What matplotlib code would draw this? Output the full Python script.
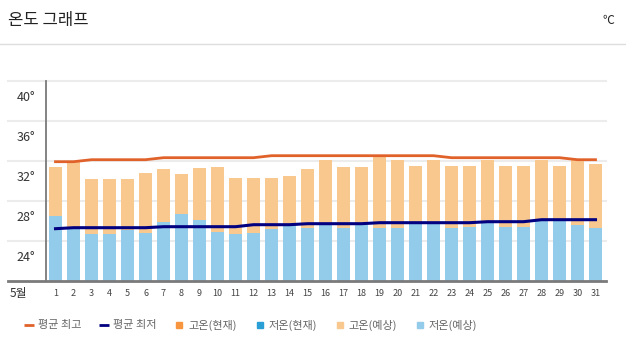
import matplotlib
matplotlib.use("Agg")
import matplotlib.pyplot as plt
import matplotlib.transforms as mtransforms
from matplotlib.lines import Line2D

plt.rcParams['font.family'] = ['Noto Sans CJK KR', 'DejaVu Sans']

HI_LINE = "#e0622a"
LO_LINE = "#000080"
HI_NOW = "#f7963f"
LO_NOW = "#2a9fd6"
HI_FC = "#f8c88e"
LO_FC = "#93cbea"

days = list(range(1, 32))
day_labels = [str(d) for d in days]
high_fc = [31.4, 31.9, 30.2, 30.2, 30.2, 30.8, 31.2, 30.7, 31.3, 31.4,
           30.3, 30.3, 30.3, 30.5, 31.2, 32.1, 31.4, 31.4, 32.5, 32.1,
           31.5, 32.1, 31.5, 31.5, 32.1, 31.5, 31.5, 32.1, 31.5, 32.1, 31.7]
low_fc = [26.5, 25.2, 24.7, 24.7, 25.1, 24.8, 25.9, 26.7, 26.1, 24.9,
          24.7, 24.8, 25.2, 25.6, 25.3, 25.6, 25.3, 25.6, 25.3, 25.3,
          25.7, 25.8, 25.3, 25.4, 25.9, 25.4, 25.4, 26.1, 26.2, 25.6, 25.3]
avg_high = [31.9, 31.9, 32.1, 32.1, 32.1, 32.1, 32.3, 32.3, 32.3, 32.3,
            32.3, 32.3, 32.5, 32.5, 32.5, 32.5, 32.5, 32.5, 32.5, 32.5,
            32.5, 32.5, 32.3, 32.3, 32.3, 32.3, 32.3, 32.3, 32.3, 32.1, 32.1]
avg_low = [25.2, 25.3, 25.3, 25.3, 25.3, 25.3, 25.4, 25.4, 25.4, 25.4,
           25.4, 25.6, 25.6, 25.6, 25.7, 25.7, 25.7, 25.7, 25.8, 25.8,
           25.8, 25.8, 25.8, 25.8, 25.9, 25.9, 25.9, 26.1, 26.1, 26.1, 26.1]
yticks = [24, 28, 32, 36, 40]
ytick_labels = ["24°", "28°", "32°", "36°", "40°"]

W, H = 626, 351
fig = plt.figure(figsize=(W / 100, H / 100), dpi=100)
ax = fig.add_axes([46.5 / W, 1 - 280.7 / H, (604.5 - 46.5) / W, 200 / H])

# header
fig.text(8 / W, 1 - 21 / H, "온도 그래프", fontsize=12, color="#222", va="center")
fig.text(614 / W, 1 - 21 / H, "℃", fontsize=8.5, color="#222", va="center", ha="right")
fig.add_artist(Line2D([0, 1], [1 - 44 / H, 1 - 44 / H], color="#dddddd", lw=1))

ax.bar(days, high_fc, width=0.76, bottom=0, color=HI_FC, zorder=2)
ax.bar(days, low_fc, width=0.76, bottom=0, color=LO_FC, zorder=3)
ax.plot(days, avg_high, color=HI_LINE, lw=2, zorder=4)
ax.plot(days, avg_low, color=LO_LINE, lw=2.2, zorder=5)

ax.set_xlim(0.5, 31.5)
ax.set_ylim(20, 40)

# grid lines reaching past the axis on the left
bt = mtransforms.blended_transform_factory(ax.transAxes, ax.transData)
x0 = (8 - 46.5) / (604.5 - 46.5)
x1 = (606 - 46.5) / (604.5 - 46.5)
for v in yticks:
    ax.plot([x0, x1], [v, v], transform=bt, color="#ececec", lw=1.5, clip_on=False, zorder=1)
ax.plot([x0, x1], [20, 20], transform=bt, color="#7a7a7a", lw=2, clip_on=False, zorder=6)

for s in ["top", "right", "bottom"]:
    ax.spines[s].set_visible(False)
ax.spines["left"].set_color("#7a7a7a")
ax.spines["left"].set_linewidth(1.3)

ax.set_yticks(yticks)
ax.set_yticklabels(ytick_labels, fontsize=9, color="#333")
ax.tick_params(axis="y", length=0, pad=8)
shift = mtransforms.ScaledTranslation(0, -15 / 100, fig.dpi_scale_trans)
for lab in ax.get_yticklabels():
    lab.set_transform(lab.get_transform() + shift)

ax.set_xticks(days)
ax.set_xticklabels(day_labels, fontsize=6.5, color="#444")
ax.tick_params(axis="x", length=0, pad=6)
fig.text(10 / W, 1 - 293 / H, "5월", fontsize=8.5, color="#333", va="center")

handles = [
    Line2D([], [], color=HI_LINE, marker="_", ls="none", ms=7, mew=2),
    Line2D([], [], color=LO_LINE, marker="_", ls="none", ms=7, mew=2),
    Line2D([], [], color=HI_NOW, marker="s", ls="none", ms=4.5),
    Line2D([], [], color=LO_NOW, marker="s", ls="none", ms=4.5),
    Line2D([], [], color=HI_FC, marker="s", ls="none", ms=4.5),
    Line2D([], [], color=LO_FC, marker="s", ls="none", ms=4.5),
]
names = ["평균 최고", "평균 최저", "고온(현재)", "저온(현재)", "고온(예상)", "저온(예상)"]
leg = fig.legend(handles, names, loc="center", bbox_to_anchor=(251 / W, 1 - 325 / H),
                 ncol=6, frameon=False, fontsize=8, handlelength=0.8,
                 handletextpad=0.4, columnspacing=1.65, borderaxespad=0)
for t in leg.get_texts():
    t.set_color("#666")

fig.savefig("out.png", dpi=100)
